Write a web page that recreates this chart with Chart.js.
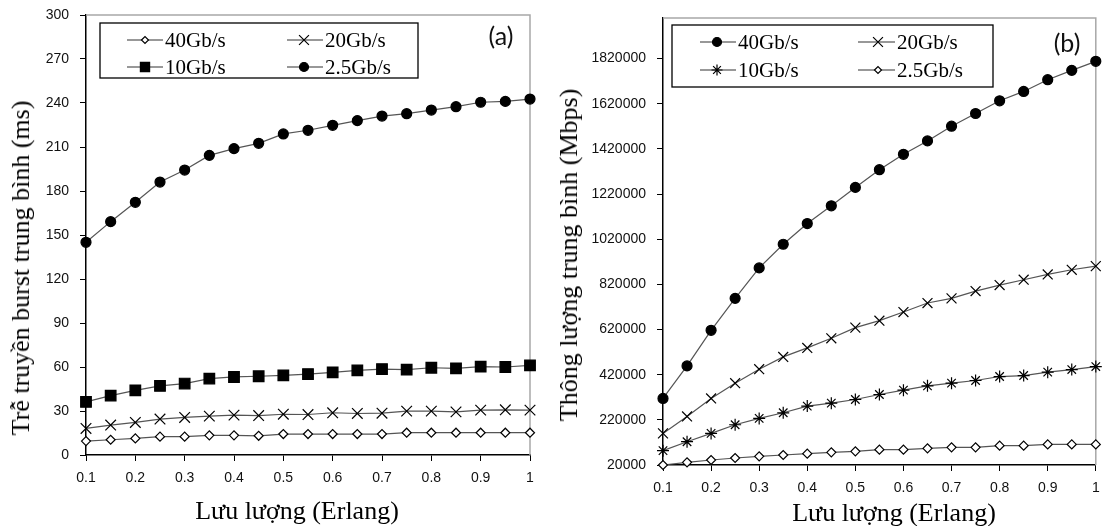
<!DOCTYPE html>
<html><head><meta charset="utf-8">
<script src="https://cdn.jsdelivr.net/npm/chart.js@4.4.1/dist/chart.umd.min.js"></script>
<style>
html,body{margin:0;padding:0;background:#fff;width:1104px;height:526px;overflow:hidden}
#wrap{position:relative;width:1104px;height:526px}
canvas{position:absolute;top:0}
.t{position:absolute;white-space:nowrap;font-family:"Liberation Serif","Times New Roman",serif;font-size:26px;line-height:1;color:#000;transform:translate(-50%,-50%)}
.r{transform:translate(-50%,-50%) rotate(-90deg)}
.p{position:absolute;white-space:nowrap;font-family:Lato,"Open Sans",sans-serif;font-size:25px;line-height:1;color:#111;transform:translate(-50%,-50%)}
</style></head>
<body><div id="wrap">
<canvas id="ca" width="552" height="526" style="left:0"></canvas>
<canvas id="cb" width="552" height="526" style="left:552px"></canvas>
<div class="t r" style="left:21px;top:268px">Trễ truyền burst trung bình (ms)</div>
<div class="t r" style="left:569px;top:255px">Thông lượng trung bình (Mbps)</div>
<div class="t" style="left:297px;top:511px">Lưu lượng (Erlang)</div>
<div class="t" style="left:894px;top:513px">Lưu lượng (Erlang)</div>
<div class="p" style="left:501px;top:35px">(a)</div>
<div class="p" style="left:1067px;top:42px">(b)</div>
</div>
<script>
// ---- data ----
const load = [0.1,0.15,0.2,0.25,0.3,0.35,0.4,0.45,0.5,0.55,0.6,0.65,0.7,0.75,0.8,0.85,0.9,0.95,1.0];
const xTicks = [0.1,0.2,0.3,0.4,0.5,0.6,0.7,0.8,0.9,1.0];
const xTickLabels = ['0.1','0.2','0.3','0.4','0.5','0.6','0.7','0.8','0.9','1'];

// panel (a): average burst transmission delay (ms)
const yTicksA = [0,30,60,90,120,150,180,210,240,270,300];
const delayA_40 = [9.5,10.4,11.3,12.5,12.5,13.4,13.4,13.1,14.3,14.3,14.3,14.3,14.3,15.2,15.2,15.2,15.2,15.2,15.2];
const delayA_20 = [18.1,20.4,22.2,24.5,25.6,26.5,27.2,26.9,27.8,27.6,28.8,28.3,28.5,29.9,29.9,29.4,30.6,30.8,30.6];
const delayA_10 = [36.2,40.5,44.1,47.1,48.7,52.1,53.2,53.7,54.3,55.2,56.4,57.7,58.6,58.2,59.5,59.1,60.2,60.0,61.1];
const delayA_25 = [145,159.1,172.3,186.1,194.3,204.3,208.9,212.5,218.9,221.4,224.8,228,231.1,232.7,235.2,237.5,240.5,241.1,242.7];

// panel (b): average throughput (Mbps)
const yTicksB = [20000,220000,420000,620000,820000,1020000,1220000,1420000,1620000,1820000];
const thrB_40 = [314700,459000,616700,758100,893000,997800,1089600,1168100,1249600,1328100,1396300,1455600,1520700,1577000,1633300,1674800,1726700,1768100,1808100];
const thrB_20 = [160000,235100,314700,382400,444300,498800,538600,581300,628500,659400,697700,737500,758100,790500,817100,840600,864200,884800,901000];
const thrB_10 = [83400,123100,160000,198300,226300,251300,280800,294000,310200,332300,351500,370700,382400,394200,411900,416300,431100,442800,456100];
const thrB_25 = [20000,31800,42100,50900,58300,64200,70100,76000,80400,87800,87800,93700,98100,98100,105500,105500,111300,111300,111300];

const labels = ['40Gb/s','20Gb/s','10Gb/s','2.5Gb/s'];

// ---- helpers ----
const pts = arr => arr.map((v,i)=>({x:load[i], y:v}));
const LINE = '#555555';
function ds(label, arr, style, r, fill, legendR){
  return {label, data: pts(arr), borderColor: LINE, borderWidth: 1.2, tension: 0, clip: false,
    pointStyle: style, pointRadius: r, pointHoverRadius: r,
    pointBackgroundColor: fill, pointBorderColor: '#000', pointBorderWidth: 1.2,
    legendRadius: legendR};
}

const frame = {
  id: 'frame',
  beforeDatasetsDraw(chart){
    const {ctx, chartArea:a} = chart;
    ctx.save();
    ctx.strokeStyle = '#a8a8a8'; ctx.lineWidth = 1.5;
    ctx.beginPath(); ctx.moveTo(a.left, a.top); ctx.lineTo(a.right, a.top); ctx.lineTo(a.right, a.bottom); ctx.stroke();
    ctx.restore();
  }
};

const boxLegend = {
  id: 'boxLegend',
  afterDraw(chart, args, o){
    const ctx = chart.ctx;
    ctx.save();
    ctx.fillStyle = '#fff';
    ctx.fillRect(o.box[0], o.box[1], o.box[2], o.box[3]);
    ctx.strokeStyle = '#000'; ctx.lineWidth = 1.3;
    ctx.strokeRect(o.box[0], o.box[1], o.box[2], o.box[3]);
    chart.data.datasets.forEach((d, i) => {
      const c = o.cols[i % 2], y = o.rows[Math.floor(i / 2)];
      ctx.strokeStyle = '#333'; ctx.lineWidth = 1.2;
      ctx.beginPath(); ctx.moveTo(c.l0, y); ctx.lineTo(c.l1, y); ctx.stroke();
      ctx.fillStyle = d.pointBackgroundColor; ctx.strokeStyle = '#000'; ctx.lineWidth = 1.2;
      if (Chart.helpers && Chart.helpers.drawPoint) {
        Chart.helpers.drawPoint(ctx, {pointStyle: d.pointStyle, radius: d.legendRadius, rotation: 0, borderWidth: 1.2}, c.m, y);
      }
      ctx.fillStyle = '#000';
      ctx.font = '21px "Liberation Serif", "Times New Roman", serif';
      ctx.textBaseline = 'middle'; ctx.textAlign = 'left';
      ctx.fillText(d.label, c.t, y + 1);
    });
    ctx.restore();
  }
};

const tickFont = {family: '"Liberation Sans", Arial, sans-serif', size: 14};

function scales(yTicks, yMin, yMax, yWidth, xHeight){
  return {
    x: {
      type: 'linear', min: 0.1, max: 1,
      afterBuildTicks: s => { s.ticks = xTicks.map(v => ({value: v})); },
      afterFit: s => { s.height = xHeight; s.paddingLeft = 0; s.paddingRight = 0; },
      ticks: {callback: (v, i) => xTickLabels[i], font: tickFont, color: '#111', padding: 9, maxRotation: 0, autoSkip: false},
      grid: {drawOnChartArea: false, drawTicks: true, tickLength: 6, tickColor: '#000', tickWidth: 1},
      border: {display: true, color: '#000', width: 1.5}
    },
    y: {
      type: 'linear', min: yMin, max: yMax,
      afterBuildTicks: s => { s.ticks = yTicks.map(v => ({value: v})); },
      afterFit: s => { s.width = yWidth; s.paddingTop = 0; s.paddingBottom = 0; },
      ticks: {callback: v => String(v), font: tickFont, color: '#111', padding: 11, autoSkip: false},
      grid: {drawOnChartArea: false, drawTicks: true, tickLength: 6, tickColor: '#000', tickWidth: 1},
      border: {display: true, color: '#000', width: 1.5}
    }
  };
}

const common = {
  responsive: false, animation: false, events: [],
  plugins: {legend: {display: false}, tooltip: {enabled: false}}
};

new Chart(document.getElementById('ca'), {
  type: 'line',
  data: {datasets: [
    ds(labels[0], delayA_40, 'rectRot', 4.5, '#fff', 3.5),
    ds(labels[1], delayA_20, 'crossRot', 7.5, '#000', 7),
    ds(labels[2], delayA_10, 'rect', 7.5, '#000', 6.5),
    ds(labels[3], delayA_25, 'circle', 5, '#000', 4.5)
  ]},
  options: Object.assign({}, common, {
    layout: {padding: {top: 15, right: 22, left: 0, bottom: 0}},
    scales: scales(yTicksA, 0, 300, 86, 71),
    plugins: Object.assign({}, common.plugins, {
      boxLegend: {box: [100, 23, 318, 55],
        cols: [{l0: 127, l1: 163, m: 145, t: 165}, {l0: 287, l1: 323, m: 304, t: 325}],
        rows: [40, 67]}
    })
  }),
  plugins: [frame, boxLegend]
});

new Chart(document.getElementById('cb'), {
  type: 'line',
  data: {datasets: [
    ds(labels[0], thrB_40, 'circle', 5, '#000', 4.5),
    ds(labels[1], thrB_20, 'crossRot', 7, '#000', 7),
    ds(labels[2], thrB_10, 'star', 6, '#000', 5.5),
    ds(labels[3], thrB_25, 'rectRot', 4.5, '#fff', 3.5)
  ]},
  options: Object.assign({}, common, {
    layout: {padding: {top: 18, right: 3, left: 0, bottom: 0}},
    scales: scales(yTicksB, 20000, 2000000, 111, 61),
    plugins: Object.assign({}, common.plugins, {
      boxLegend: {box: [120, 25, 321, 62],
        cols: [{l0: 148, l1: 184, m: 165, t: 186}, {l0: 306, l1: 343, m: 326, t: 345}],
        rows: [42, 70]}
    })
  }),
  plugins: [frame, boxLegend]
});
</script>
</body></html>
